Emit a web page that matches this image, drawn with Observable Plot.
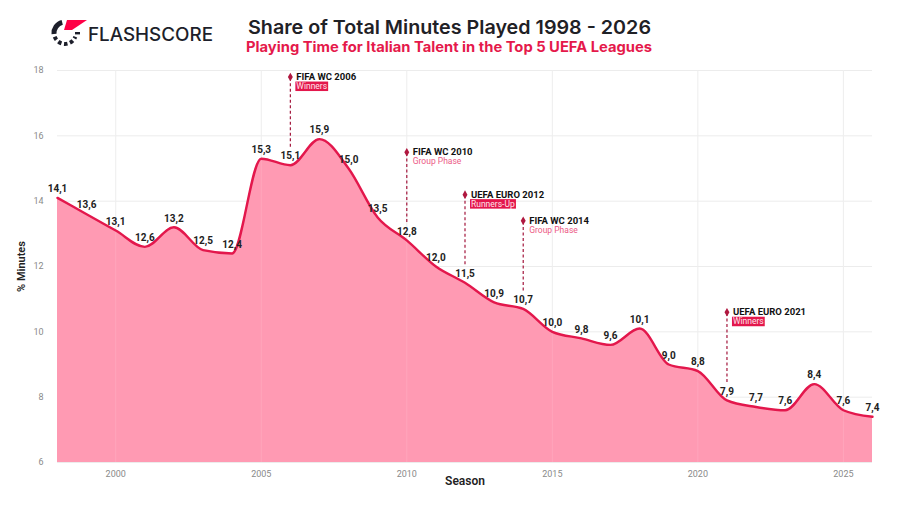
<!DOCTYPE html>
<html>
<head>
<meta charset="utf-8">
<script src="https://cdn.jsdelivr.net/npm/d3@7"></script>
<script src="https://cdn.jsdelivr.net/npm/@observablehq/plot@0.6"></script>
<style>
  body { margin: 0; background: #fff; font-family: Inter, "Noto Sans", sans-serif; }
  #header { display: block; }
  #chart svg { display: block; }
  g[aria-label="y-axis label"] text { font-size: 11px; font-weight: 600; fill: #222; }
  g[aria-label="x-axis label"] text { font-size: 12px; font-weight: 600; fill: #222; }
</style>
</head>
<body>
<svg id="header" width="900" height="60" viewBox="0 0 900 60">
  <!-- brand mark -->
  <g>
    <path d="M54,34 A11,11 0 0 1 62.2,22.4" fill="none" stroke="#1d1f2b" stroke-width="5"/>
    <path d="M54.7,36.8 A11,11 0 0 0 75.3,36.8" fill="none" stroke="#1d1f2b" stroke-width="4" stroke-dasharray="3.5,2.6"/>
    <polygon points="67,20 87,20 72,30 64,30" fill="#ff0046"/>
    <rect x="75" y="32" width="5" height="2.4" fill="#1d1f2b"/>
    <text x="88" y="41" font-family="Inter, sans-serif" font-size="18" font-weight="500" fill="#1d1f2b" textLength="125" lengthAdjust="spacingAndGlyphs">FLASHSCORE</text>
  </g>
  <text x="449.5" y="34" text-anchor="middle" font-family="Inter, sans-serif" font-size="19" font-weight="600" fill="#1f2126" textLength="403" lengthAdjust="spacingAndGlyphs">Share of Total Minutes Played 1998 - 2026</text>
  <text x="449" y="52" text-anchor="middle" font-family="Inter, sans-serif" font-size="14" font-weight="700" fill="#e5194b" textLength="406" lengthAdjust="spacingAndGlyphs">Playing Time for Italian Talent in the Top 5 UEFA Leagues</text>
</svg>
<div id="chart"></div>
<script>
// Share (%) of all minutes played in the top 5 leagues by Italian players, per season
const seasons = [1998, 1999, 2000, 2001, 2002, 2003, 2004, 2005, 2006, 2007, 2008, 2009, 2010, 2011,
  2012, 2013, 2014, 2015, 2016, 2017, 2018, 2019, 2020, 2021, 2022, 2023, 2024, 2025, 2026];
const minutesShare = [14.1, 13.6, 13.1, 12.6, 13.2, 12.5, 12.4, 15.3, 15.1, 15.9, 15.0, 13.5, 12.8, 12.0,
  11.5, 10.9, 10.7, 10.0, 9.8, 9.6, 10.1, 9.0, 8.8, 7.9, 7.7, 7.6, 8.4, 7.6, 7.4];

// Major tournaments and Italy's result
const tournamentSeasons = [2006, 2010, 2012, 2014, 2021];
const tournamentNames = ["FIFA WC 2006", "FIFA WC 2010", "UEFA EURO 2012", "FIFA WC 2014", "UEFA EURO 2021"];
const tournamentResults = ["Winners", "Group Phase", "Runners-Up", "Group Phase", "Winners"];

const yTicks = [6, 8, 10, 12, 14, 16, 18];
const xTicks = [2000, 2005, 2010, 2015, 2020, 2025];

const crimson = "#e3174c";
const fmt = d3.format(".1f");
const comma = (v) => fmt(v).replace(".", ",");

const series = seasons.map((s, i) => ({season: s, value: minutesShare[i]}));
const valueOf = new Map(series.map((d) => [d.season, d.value]));
const events = tournamentSeasons.map((s, i) => ({
  season: s,
  name: tournamentNames[i],
  result: tournamentResults[i],
  top: valueOf.get(s) + 2.7,
  bottom: valueOf.get(s) + 0.55
}));
// medal finishes get a highlighted label
const isMedal = (d) => d.result !== "Group Phase";
const boxed = events.filter(isMedal);
const plain = events.filter((d) => !isMedal(d));

const chart = Plot.plot({
  width: 900,
  height: 446,
  marginLeft: 57,
  marginRight: 28,
  marginTop: 10,
  marginBottom: 44,
  style: {fontFamily: "Roboto, sans-serif", background: "#fff"},
  x: {domain: [1998, 2026], label: null},
  y: {domain: [6, 18], label: null},
  marks: [
    Plot.gridY(yTicks, {stroke: "#ececec", strokeOpacity: 1}),
    Plot.gridX(xTicks, {stroke: "#ececec", strokeOpacity: 1}),
    Plot.areaY(series, {x: "season", y1: 6, y2: "value", fill: "#ff9ab3", curve: "monotone-x"}),
    Plot.gridX(xTicks, {stroke: "#fff", strokeOpacity: 0.12}),
    Plot.lineY(series, {x: "season", y: "value", stroke: crimson, strokeWidth: 2.4, curve: "monotone-x"}),
    Plot.axisY({ticks: yTicks, tickSize: 0, tickPadding: 14, fontSize: 9, fill: "#8a8a8a",
      label: "% Minutes", labelAnchor: "center", labelArrow: "none", labelOffset: 40}),
    Plot.axisX({ticks: xTicks, tickSize: 0, tickPadding: 8, fontSize: 9, fill: "#8a8a8a", tickFormat: "d",
      label: "Season", labelAnchor: "center", labelArrow: "none", labelOffset: 22}),
    Plot.text(series, {x: "season", y: "value", text: (d) => comma(d.value), dy: -9,
      fontSize: 10, fontWeight: 700, fill: "#222"}),
    Plot.ruleX(events, {x: "season", y1: "bottom", y2: "top", stroke: "#a3163c", strokeWidth: 1.2,
      strokeDasharray: "3,2.5"}),
    Plot.dot(events, {x: "season", y: "top", symbol: "diamond", r: 2.6, fill: "#b01840"}),
    Plot.text(events, {x: "season", y: "top", text: "name", textAnchor: "start", lineAnchor: "bottom",
      dx: 6, dy: 3, fontSize: 9.5, fontWeight: 700, fill: "#111"}),
    Plot.text(boxed, {x: "season", y: "top", text: "result", textAnchor: "start", lineAnchor: "bottom",
      dx: 6, dy: 12, fontSize: 8.5, fill: "#ffe3ea"}),
    Plot.text(plain, {x: "season", y: "top", text: "result", textAnchor: "start", lineAnchor: "bottom",
      dx: 6, dy: 12, fontSize: 8.5, fill: "#ec5a86"})
  ]
});

document.getElementById("chart").append(chart);

// crimson highlight behind medal results
const medalResults = new Set(boxed.map((d) => d.result));
const medalTexts = Array.from(chart.querySelectorAll("text"))
  .filter((t) => medalResults.has(t.textContent));
for (const t of medalTexts) {
  const b = t.getBBox();
  const rect = document.createElementNS("http://www.w3.org/2000/svg", "rect");
  rect.setAttribute("x", b.x - 1);
  rect.setAttribute("y", b.y + 0.5);
  rect.setAttribute("width", b.width + 2);
  rect.setAttribute("height", b.height - 0.5);
  rect.setAttribute("fill", crimson);
  const tr = t.getAttribute("transform");
  if (tr) rect.setAttribute("transform", tr);
  t.parentNode.insertBefore(rect, t);
}
</script>
</body>
</html>
